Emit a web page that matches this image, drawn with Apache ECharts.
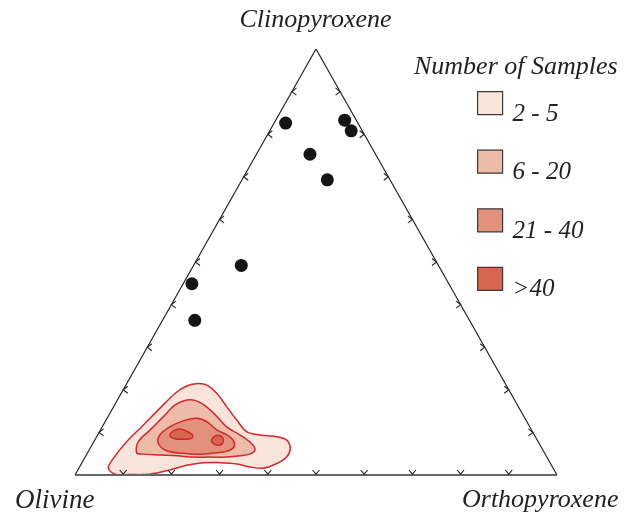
<!DOCTYPE html>
<html>
<head>
<meta charset="utf-8">
<script src="https://cdn.jsdelivr.net/npm/echarts@6/dist/echarts.min.js"></script>
<style>
html,body{margin:0;padding:0;background:#fff;}
#chart{width:631px;height:520px;}
</style>
</head>
<body>
<div id="chart"></div>
<script>
// Ternary apices
const apexLabels = ['Clinopyroxene', 'Olivine', 'Orthopyroxene'];
// Sample points (percent)
const olivine       = [15.0,  2.4,  2.3, 13.6, 13.0, 40.9, 53.3, 57.0];
const orthopyroxene = [ 2.4, 14.3, 16.9, 11.1, 17.7,  9.9,  1.8,  6.7];
const clinopyroxene = [82.6, 83.3, 80.8, 75.3, 69.3, 49.2, 44.9, 36.3];
// Density contours as [orthopyroxene %, clinopyroxene %] (olivine = remainder)
const contour2to5 = [[6.1,1.6],[6.0,3.9],[6.8,7.8],[8.3,11.7],[9.8,15.7],[11.2,19.2],[12.7,20.9],[14.8,21.5],[16.8,21.1],[19.8,19.2],[23.5,16.0],[27.1,12.9],[30.5,10.2],[33.7,9.4],[37.4,9.0],[39.8,8.2],[41.5,6.3],[41.8,4.3],[40.5,2.7],[38.3,1.6],[35.3,1.9],[32.3,2.6],[28.6,2.9],[25.2,2.9],[22.0,2.3],[19.1,1.2],[15.4,0.2],[11.4,0.1],[8.2,0.2]];
const contour6to20 = [[10.2,5.2],[9.2,7.8],[10.3,10.6],[11.5,13.7],[12.5,16.4],[14.4,17.6],[16.5,17.4],[19.3,16.0],[22.6,13.7],[25.8,11.3],[29.5,9.4],[32.9,7.4],[34.4,5.9],[33.8,4.9],[32.0,4.5],[29.4,4.2],[25.9,4.2],[22.5,4.2],[18.9,4.5],[15.3,4.7],[11.7,4.9]];
const contour21to40 = [[13.6,7.4],[12.9,9.4],[14.0,11.3],[16.1,12.7],[18.6,13.3],[21.1,12.5],[24.1,10.6],[26.8,9.4],[28.7,8.2],[29.7,6.6],[29.0,5.7],[26.8,5.2],[23.5,4.9],[19.9,5.1],[16.2,5.7]];
const contourOver40a = [[15.1,9.2],[15.2,10.3],[16.4,10.8],[18.0,10.3],[19.7,9.4],[19.9,8.6],[18.3,8.4],[16.5,8.5]];
const contourOver40b = [[24.2,8.2],[24.5,9.2],[25.5,9.2],[26.5,8.5],[26.9,7.4],[26.2,7.0],[25.1,7.3]];
const legendTitle = 'Number of Samples';
const classNames = ['2 - 5', '6 - 20', '21 - 40', '>40'];
const tickValues = [10, 20, 30, 40, 50, 60, 70, 80, 90];

const fills = ['#f8e4da', '#edbba8', '#e2917b', '#d5664f'];
const strokeCol = '#d2282e';
const FONT = '"Liberation Serif", "DejaVu Serif", serif';

// ternary (opx, cpx) -> plot x,y
function toXY(opx, cpx) { return [opx + cpx / 2, cpx]; }

const chart = echarts.init(document.getElementById('chart'), null, {renderer: 'canvas'});

function polySeries(name, polys, fill) {
  return {
    type: 'custom', name: name, coordinateSystem: 'cartesian2d',
    data: [0], z: 2, silent: true,
    itemStyle: {color: fill},
    renderItem: function (params, api) {
      const children = polys.map(function (poly) {
        return {
          type: 'polygon',
          shape: {points: poly.map(function (p) { return api.coord(toXY(p[0], p[1])); }), smooth: 0.35},
          style: {fill: fill, stroke: strokeCol, lineWidth: 1.5}
        };
      });
      return {type: 'group', children: children};
    }
  };
}

const tickSeries = {
  type: 'custom', coordinateSystem: 'cartesian2d', data: tickValues, z: 4, silent: true,
  renderItem: function (params, api) {
    const t = api.value(0);
    const b = api.coord(toXY(t, 0));
    const l = api.coord(toXY(0, t));
    const r = api.coord(toXY(100 - t, t));
    const st = {stroke: '#222', lineWidth: 1.1, fill: null};
    return {type: 'group', children: [
      {type: 'polyline', shape: {points: [[b[0] - 3.5, b[1] - 5], [b[0], b[1] - 0.8], [b[0] + 3.5, b[1] - 5]]}, style: st},
      {type: 'polyline', shape: {points: [[l[0] + 4.5, l[1] - 3.5], [l[0], l[1]], [l[0] + 4.5, l[1] + 3.5]]}, style: st},
      {type: 'polyline', shape: {points: [[r[0] - 4.5, r[1] - 3.5], [r[0], r[1]], [r[0] - 4.5, r[1] + 3.5]]}, style: st}
    ]};
  }
};

const option = {
  backgroundColor: '#ffffff',
  animation: false,
  grid: {left: 75, right: 74, top: 49, bottom: 45},
  xAxis: {type: 'value', min: 0, max: 100, show: false},
  yAxis: {type: 'value', min: 0, max: 100, show: false},
  legend: {
    orient: 'vertical', left: 472, top: 86, itemWidth: 25, itemHeight: 23, itemGap: 23,
    selectedMode: false, icon: 'rect',
    data: classNames.map(function (n, i) {
      return {name: n, itemStyle: {color: fills[i], borderColor: '#3a3a3a', borderWidth: 1.2}};
    }),
    formatter: function (n) { return '{a|' + n + '}'; },
    textStyle: {
      fontFamily: FONT, fontStyle: 'italic', fontSize: 25, color: '#222',
      rich: {a: {fontFamily: FONT, fontStyle: 'italic', fontSize: 25, color: '#222', padding: [22, 0, 0, 5]}}
    }
  },
  graphic: [
    {type: 'text', left: 'center', top: 7, style: {text: apexLabels[0], font: 'italic 26px ' + FONT, fill: '#222'}},
    {type: 'text', left: 15, top: 487, style: {text: apexLabels[1], font: 'italic 27px ' + FONT, fill: '#222'}},
    {type: 'text', left: 462, top: 487, style: {text: apexLabels[2], font: 'italic 26px ' + FONT, fill: '#222'}},
    {type: 'text', left: 414, top: 54, style: {text: legendTitle, font: 'italic 26px ' + FONT, fill: '#222'}}
  ],
  series: [
    polySeries(classNames[0], [contour2to5], fills[0]),
    polySeries(classNames[1], [contour6to20], fills[1]),
    polySeries(classNames[2], [contour21to40], fills[2]),
    polySeries(classNames[3], [contourOver40a, contourOver40b], fills[3]),
    {
      type: 'line', coordinateSystem: 'cartesian2d', z: 3, silent: true, symbol: 'none',
      data: [toXY(0, 0), toXY(0, 100), toXY(100, 0)],
      lineStyle: {color: '#222', width: 1.2}
    },
    {
      type: 'line', coordinateSystem: 'cartesian2d', z: 3, silent: true, symbol: 'none',
      data: [toXY(0, 0), toXY(100, 0)],
      lineStyle: {color: '#666', width: 2}
    },
    tickSeries,
    {
      type: 'scatter', coordinateSystem: 'cartesian2d', z: 5, silent: true,
      symbolSize: 13, itemStyle: {color: '#151515', opacity: 1},
      data: orthopyroxene.map(function (o, i) { return toXY(o, clinopyroxene[i]); })
    }
  ]
};
chart.setOption(option);
</script>
</body>
</html>
